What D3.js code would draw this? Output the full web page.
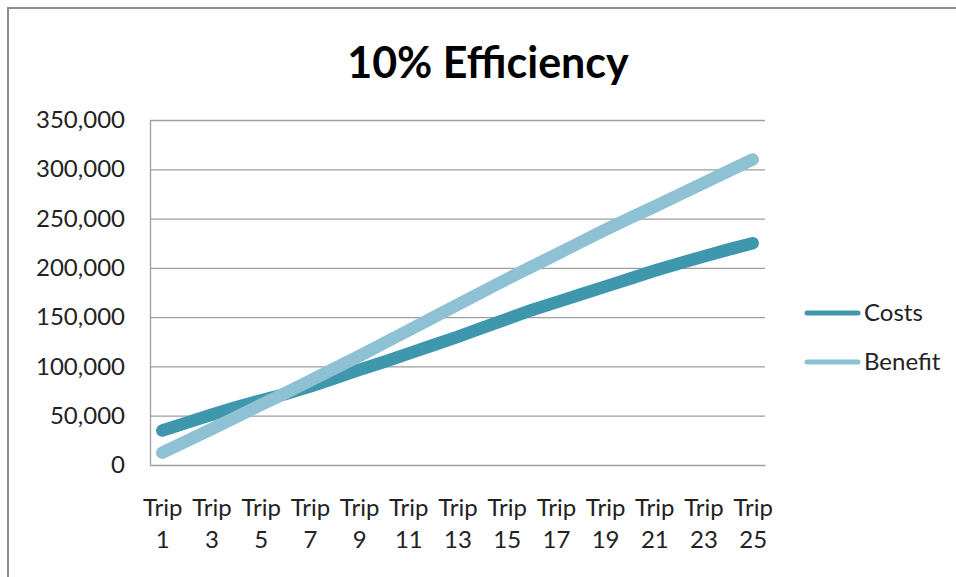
<!DOCTYPE html>
<html>
<head>
<meta charset="utf-8">
<script src="https://cdn.jsdelivr.net/npm/d3@7"></script>
<style>
  html, body { margin: 0; padding: 0; background: #fff; }
  svg { display: block; font-family: Lato, "Open Sans", sans-serif; }
</style>
</head>
<body>
<svg id="chart" width="956" height="577"></svg>
<script>
// Trip categories along the x axis
const categories = [
  "Trip 1", "Trip 2", "Trip 3", "Trip 4", "Trip 5", "Trip 6", "Trip 7",
  "Trip 8", "Trip 9", "Trip 10", "Trip 11", "Trip 12", "Trip 13", "Trip 14",
  "Trip 15", "Trip 16", "Trip 17", "Trip 18", "Trip 19", "Trip 20", "Trip 21",
  "Trip 22", "Trip 23", "Trip 24", "Trip 25"
];

// Cumulative costs per trip
const costs = [
  35000, 43000, 51000, 58500, 65500, 72000, 79500, 88000, 96500, 104500,
  113000, 121500, 130000, 139000, 148000, 157000, 165000, 173000, 181000, 189000,
  197000, 204500, 211500, 218500, 225000
];

// Cumulative benefit per trip
const benefit = [
  12500, 24500, 36500, 48500, 61000, 73000, 85500, 98000, 110500, 123500,
  136500, 149500, 162500, 175500, 188500, 201000, 213500, 226000, 238500, 250500,
  262000, 274000, 286000, 298000, 310000
];

// Labelled categories and value ticks
const xTickLabels = [
  "Trip 1", "Trip 3", "Trip 5", "Trip 7", "Trip 9", "Trip 11", "Trip 13",
  "Trip 15", "Trip 17", "Trip 19", "Trip 21", "Trip 23", "Trip 25"
];
const yTicks = [0, 50000, 100000, 150000, 200000, 250000, 300000, 350000];

const seriesNames = ["Costs", "Benefit"];
const seriesColors = ["#3f97ae", "#8dc1d3"];

const svg = d3.select("#chart");

const plot = { left: 150, right: 765, top: 120, bottom: 465 };
const labelFont = "Lato, sans-serif";

// Outer chart frame (only its top and left edges fall inside the view)
svg.append("rect")
  .attr("x", 8).attr("y", 8)
  .attr("width", 1200).attr("height", 900)
  .attr("fill", "none")
  .attr("stroke", "#8c8c8c")
  .attr("stroke-width", 2);

const x = d3.scalePoint()
  .domain(categories)
  .range([plot.left, plot.right])
  .padding(0.5);

const y = d3.scaleLinear()
  .domain([0, 350000])
  .range([plot.bottom, plot.top]);

// Horizontal gridlines
svg.append("g")
  .attr("transform", `translate(${plot.left},0)`)
  .call(d3.axisLeft(y).tickValues(yTicks.filter(v => v > 0))
    .tickSize(-(plot.right - plot.left)).tickFormat(""))
  .call(g => g.select(".domain").remove())
  .call(g => g.selectAll("line").attr("stroke", "#9e9e9e").attr("stroke-width", 1.3));

// Value axis
svg.append("g")
  .attr("transform", `translate(${plot.left},0)`)
  .call(d3.axisLeft(y).tickValues(yTicks).tickSize(0).tickPadding(25)
    .tickFormat(d3.format(",")))
  .call(g => g.select(".domain").attr("stroke", "#9e9e9e").attr("stroke-width", 1.3))
  .call(g => g.selectAll("text")
    .attr("font-family", labelFont)
    .attr("font-size", 24)
    .attr("fill", "#222"));

// Category axis
const xAxis = svg.append("g")
  .attr("transform", `translate(0,${plot.bottom})`)
  .call(d3.axisBottom(x).tickValues(xTickLabels).tickSize(0).tickFormat(""))
  .call(g => g.select(".domain").attr("stroke", "#9e9e9e").attr("stroke-width", 1.3));

xAxis.selectAll(".tick").each(function(d) {
  const parts = d.split(" ");
  const t = d3.select(this).append("text")
    .attr("text-anchor", "middle")
    .attr("font-family", labelFont)
    .attr("font-size", 24)
    .attr("fill", "#222");
  t.append("tspan").attr("x", 0).attr("y", 51).text(parts[0]);
  t.append("tspan").attr("x", 0).attr("y", 83).text(parts[1]);
});

// Series lines
const line = d3.line()
  .x((d, i) => x(categories[i]))
  .y(d => y(d));

[costs, benefit].forEach((vals, k) => {
  svg.append("path")
    .datum(vals)
    .attr("d", line)
    .attr("fill", "none")
    .attr("stroke", seriesColors[k])
    .attr("stroke-width", 12.5)
    .attr("stroke-linecap", "round")
    .attr("stroke-linejoin", "round");
});

// Legend
const legendY = [313, 362];
seriesNames.forEach((name, k) => {
  const g = svg.append("g").attr("transform", `translate(0,${legendY[k]})`);
  g.append("line")
    .attr("x1", 807).attr("x2", 858)
    .attr("y1", 0).attr("y2", 0)
    .attr("stroke", seriesColors[k])
    .attr("stroke-width", 5)
    .attr("stroke-linecap", "round");
  g.append("text")
    .attr("x", 864).attr("y", 0)
    .attr("dy", "0.35em")
    .attr("font-family", labelFont)
    .attr("font-size", 24)
    .attr("fill", "#222")
    .text(name);
});

// Title
svg.append("text")
  .attr("x", 488).attr("y", 78)
  .attr("text-anchor", "middle")
  .attr("font-family", labelFont)
  .attr("font-weight", "bold")
  .attr("font-size", 43)
  .attr("fill", "#000")
  .text("10% Efficiency");
</script>
</body>
</html>
